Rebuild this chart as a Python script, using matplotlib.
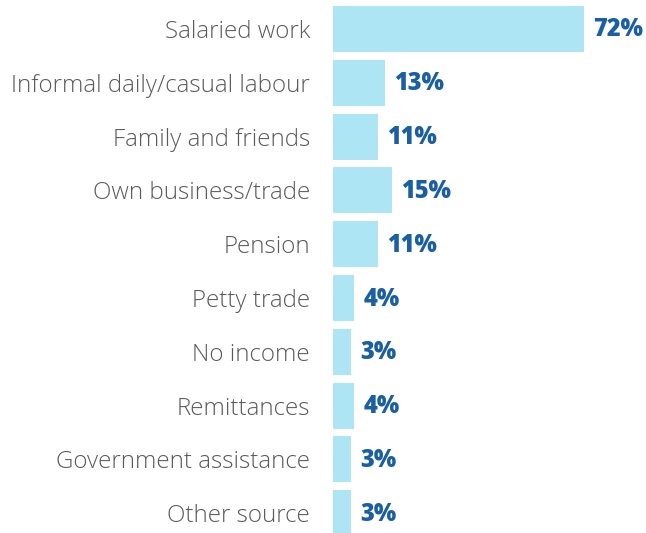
import matplotlib
matplotlib.use("Agg")
import matplotlib.pyplot as plt

categories = ["Salaried work", "Informal daily/casual labour", "Family and friends",
              "Own business/trade", "Pension", "Petty trade", "No income",
              "Remittances", "Government assistance", "Other source"]
values = [72, 13, 11, 15, 11, 4, 3, 4, 3, 3]
value_labels = [f"{v}%" for v in values]

BAR_COLOR = "#ade5f5"
VAL_COLOR = "#1b5fa3"
LABEL_COLOR = "#5a5a5a"
bar_base = -2.34

fig = plt.figure(figsize=(6.46, 5.33), dpi=100)
ax = fig.add_axes([333 / 646, 0, 1 - 333 / 646, 1])

ypos = list(range(len(categories)))
ax.barh(ypos, [v - bar_base for v in values], left=bar_base, height=0.855,
        color=BAR_COLOR, edgecolor="none")

for y, v, lab in zip(ypos, values, value_labels):
    ax.annotate(lab, xy=(v, y), xytext=(9, -1), textcoords="offset pixels",
                ha="left", va="center", fontsize=17, fontweight="heavy",
                color=VAL_COLOR, family="Open Sans")

ax.set_xlim(bar_base, 90.3)
ax.set_ylim(9.368, -0.539)
ax.set_yticks(ypos)
ax.set_yticklabels(categories, fontsize=17.4, color=LABEL_COLOR, family="Open Sans",
                   fontweight="light")
ax.tick_params(axis="y", length=0, pad=16.5)
ax.set_xticks([])
for s in ax.spines.values():
    s.set_visible(False)

fig.savefig("out.png", dpi=100)
